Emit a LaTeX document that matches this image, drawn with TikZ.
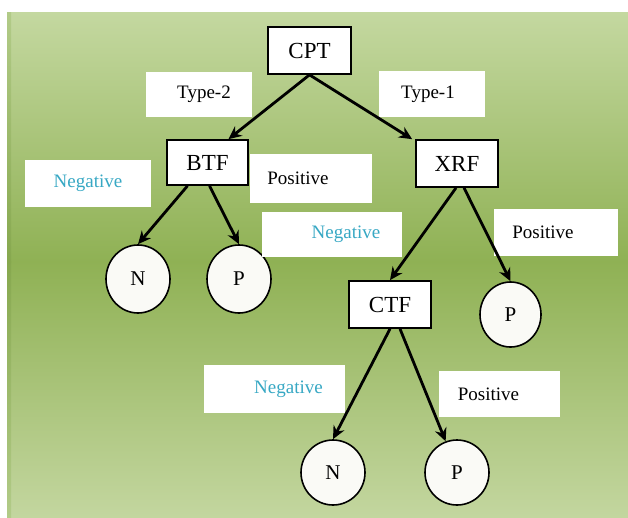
\documentclass[tikz,border=0pt]{standalone}
\usepackage{fontspec}
\setmainfont{Liberation Serif}
\usetikzlibrary{arrows.meta,shapes.geometric}

\definecolor{bgtop}{HTML}{C4D8A0}
\definecolor{bgmid}{HTML}{8FB154}
\definecolor{bgbot}{HTML}{C3D69F}
\definecolor{edgetop}{HTML}{B2CB88}
\definecolor{edgemid}{HTML}{86A84E}
\definecolor{negcol}{RGB}{55,168,196}
\definecolor{leaffill}{HTML}{FAFAF6}

\newcommand{\txtshift}[1]{\hspace*{#1}}

\tikzset{
  decision/.style={draw=black, line width=1.7pt, fill=white, inner sep=0pt,
    font=\fontsize{23}{27}\selectfont},
  leaf/.style={ellipse, draw=black, line width=1.6pt, fill=leaffill, inner sep=0pt,
    font=\fontsize{21}{25}\selectfont},
  tag/.style={fill=white, inner sep=0pt, font=\fontsize{19}{23}\selectfont},
  negtag/.style={tag, text=negcol},
  arr/.style={line width=2.8pt, -{Stealth[length=13pt,width=12pt]}},
}

\begin{document}
\begin{tikzpicture}[x=1pt,y=-1pt]
  \useasboundingbox (0,0) rectangle (628,517);
  \fill[white] (0,0) rectangle (628,517);

  % green gradient backdrop
  \shade[top color=bgtop, bottom color=bgmid] (8,12) rectangle (628,262);
  \shade[top color=bgmid, bottom color=bgbot] (8,261) rectangle (628,517);
  \shade[top color=edgetop, bottom color=edgemid] (7,12) rectangle (11,262);
  \shade[top color=edgemid, bottom color=edgetop] (7,261) rectangle (11,517);

  % decision boxes
  \node[decision, minimum width=83pt, minimum height=47pt] (cpt) at (309.5,50.5) {CPT};
  \node[decision, minimum width=81pt, minimum height=45pt] (btf) at (207.5,162.5) {BTF};
  \node[decision, minimum width=82pt, minimum height=47pt] (xrf) at (457,163.5) {XRF};
  \node[decision, minimum width=82pt, minimum height=47pt] (ctf) at (390,304.5) {CTF};

  % leaves
  \node[leaf, minimum width=64pt, minimum height=68pt] (n1) at (138,279) {N};
  \node[leaf, minimum width=64pt, minimum height=68pt] (p1) at (239,279) {P};
  \node[leaf, minimum width=61pt, minimum height=65pt] (p2) at (510.5,314.5) {P};
  \node[leaf, minimum width=64pt, minimum height=65pt] (n3) at (333,472.5) {N};
  \node[leaf, minimum width=64pt, minimum height=65pt] (p3) at (457,472.5) {P};

  % branch labels
  \node[tag, minimum width=106pt, minimum height=45pt] (lt2) at (199,94.5) {\txtshift{10pt}Type-2};
  \node[tag, minimum width=106pt, minimum height=46pt] (lt1) at (432,94) {\txtshift{-8pt}Type-1};
  \node[negtag, minimum width=126pt, minimum height=47pt] (lneg1) at (88,183.5) {Negative};
  \node[tag, minimum width=122pt, minimum height=49pt] (lpos1) at (311,178.5) {\txtshift{-26pt}Positive};
  \node[negtag, minimum width=140pt, minimum height=45pt] (lneg2) at (332,234.5) {\txtshift{28pt}Negative};
  \node[tag, minimum width=124pt, minimum height=47pt] (lpos2) at (556,232.5) {\txtshift{-26pt}Positive};
  \node[negtag, minimum width=141pt, minimum height=48pt] (lneg3) at (274.5,389) {\txtshift{28pt}Negative};
  \node[tag, minimum width=121pt, minimum height=46pt] (lpos3) at (499.5,394) {\txtshift{-22pt}Positive};

  % connectors
  \draw[arr] (cpt.south) -- ([xshift=21pt]btf.north);
  \draw[arr] (cpt.south) -- ([xshift=-3pt]xrf.north west);
  \draw[arr] ([xshift=-20pt]btf.south) -- (n1.north);
  \draw[arr] ([xshift=2pt]btf.south) -- (p1.north);
  \draw[arr] ([xshift=-1pt]xrf.south) -- (ctf.north);
  \draw[arr] ([xshift=7pt]xrf.south) -- (p2.north);
  \draw[arr] (ctf.south) -- (n3.north);
  \draw[arr] ([xshift=10pt]ctf.south) -- (p3.110);
\end{tikzpicture}
\end{document}
